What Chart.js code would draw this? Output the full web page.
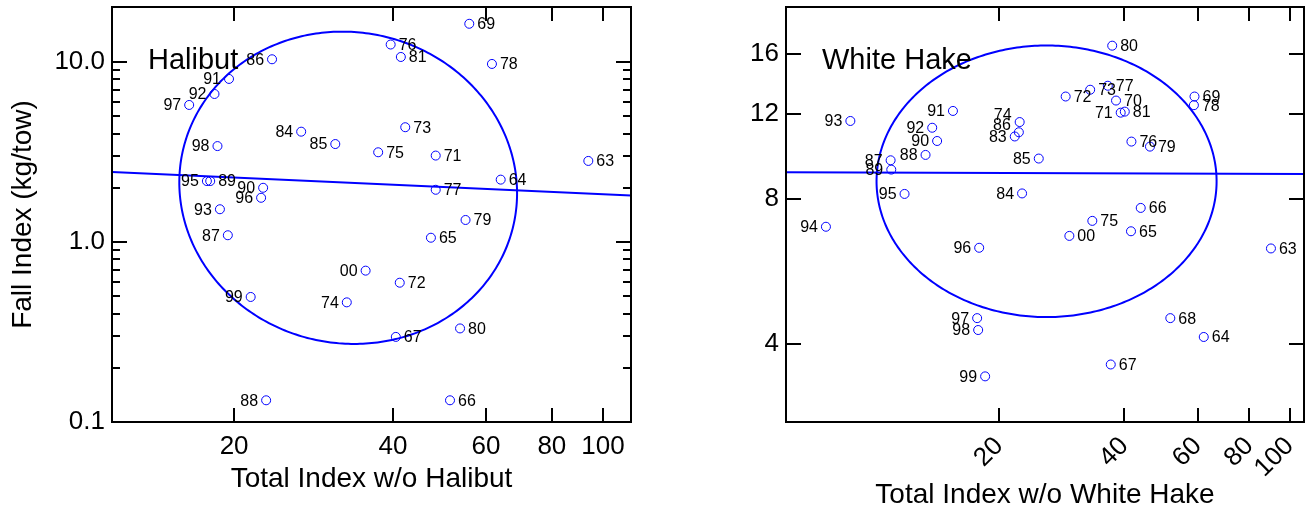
<!DOCTYPE html>
<html>
<head>
<meta charset="utf-8">
<script src="https://cdn.jsdelivr.net/npm/chart.js@4/dist/chart.umd.min.js"></script>
<style>
html,body{margin:0;padding:0;background:#fff;}
#wrap{position:relative;width:1314px;height:512px;overflow:hidden;}
.pane{position:absolute;top:0;width:657px;height:512px;}
</style>
</head>
<body>
<div id="wrap">
  <div class="pane" style="left:0"><canvas id="hal" width="657" height="512"></canvas></div>
  <div class="pane" style="left:657px"><canvas id="wh" width="657" height="512"></canvas></div>
</div>
<script>
// ---------------- Halibut panel data ----------------
const halYears = ['63','64','65','66','67','69','71','72','73','74','75','76','77','78','79','80','81','84','85','86','87','88','89','90','91','92','93','95','96','97','98','99','00'];
const halX = [93.8,64.0,47.2,51.3,40.5,55.8,48.2,41.2,42.2,32.7,37.5,39.6,48.2,61.6,54.9,53.6,41.4,26.8,31.1,23.6,19.46,23.0,18.02,22.7,19.56,18.36,18.8,17.76,22.5,16.44,18.6,21.5,35.5];
const halY = [2.82,2.22,1.056,0.132,0.297,16.3,3.02,0.594,4.34,0.462,3.15,12.5,1.95,9.75,1.325,0.331,10.66,4.10,3.50,10.35,1.09,0.132,2.18,2.00,8.05,6.64,1.52,2.18,1.76,5.77,3.41,0.495,0.693];
const halLabelSide = ['R','R','R','R','R','R','R','R','R','L','R','R','R','R','R','R','R','L','L','L','L','L','R','L','L','L','L','L','L','L','L','L','L'];
const halLabelDy = [0,0,0,0,0,0,0,0,0,0,0,0,0,0,0,0,0,0,0,0,0,0,0,0,0,0,0,0,0,0,0,0,0];
const halTrendX = [11.74, 113];
const halTrendY = [2.448, 1.813];
// ellipse in log10 space: centre x, centre y, half-width (decades), half-height (decades), shear
const halEllipse = [32.9, 2.0, 0.32, 0.867, 0.03];
const halXRange = [11.74, 113];
const halYRange = [0.1, 20.2];
const halXTicks = [20, 40, 60, 80, 100];
const halXTickLabels = ['20', '40', '60', '80', '100'];
const halYTicks = [0.1, 1, 10];
const halYTickLabels = ['0.1', '1.0', '10.0'];
const halYMinor = [0.2,0.3,0.4,0.5,0.6,0.7,0.8,0.9,2,3,4,5,6,7,8,9];

// ---------------- White Hake panel data ----------------
const whYears = ['63','64','65','66','67','68','69','70','71','72','73','74','75','76','77','78','79','80','81','83','84','85','86','87','88','89','90','91','92','93','94','95','96','97','98','99','00'];
const whX = [90.1,62.1,41.5,43.8,37.1,51.6,59.0,38.2,39.2,28.9,33.1,22.4,33.5,41.6,36.5,58.8,46.1,37.4,40.1,21.8,22.7,24.9,22.3,10.96,13.3,11.0,14.18,15.48,13.8,8.77,7.66,11.84,17.9,17.7,17.8,18.5,29.5];
const whY = [6.32,4.14,6.86,7.67,3.63,4.53,13.06,12.81,12.09,13.06,13.49,11.56,7.21,10.53,13.75,12.53,10.28,16.65,12.15,10.79,8.22,9.71,11.01,9.63,9.88,9.21,10.56,12.19,11.25,11.62,7.01,8.20,6.34,4.53,4.28,3.43,6.71];
const whLabelSide = ['R','R','R','R','R','R','R','R','L','R','R','L','R','R','R','R','R','R','R','L','L','L','L','L','L','L','L','L','L','L','L','L','L','L','L','L','R'];
const whLabelDy = [0,0,0,0,0,0,0,0,0,0,0,-7,0,0,0,0,0,0,0,0,0,0,-8,0,0,0,0,0,0,0,0,0,0,0,0,0,0];
const whTrendX = [6.14, 108.2];
const whTrendY = [9.09, 9.02];
const whEllipse = [26.0, 8.71, 0.409, 0.2817, 0];
const whXRange = [6.14, 108.2];
const whYRange = [2.758, 20.03];
const whXTicks = [20, 40, 60, 80, 100];
const whXTickLabels = ['20', '40', '60', '80', '100'];
const whYTicks = [4, 8, 12, 16];
const whYTickLabels = ['4', '8', '12', '16'];
const whYMinor = [];

const FONT = "'Liberation Sans', Arial, Helvetica, sans-serif";
const BLUE = '#0000ff';

const decorPlugin = {
  id: 'decor',
  beforeDatasetsDraw(chart) {
    const o = chart.options.plugins.decor;
    const ctx = chart.ctx, xs = chart.scales.x, ys = chart.scales.y, a = chart.chartArea;
    const e = o.ellipse;
    const lcx = Math.log10(e[0]), lcy = Math.log10(e[1]);
    ctx.save();
    ctx.beginPath();
    ctx.rect(a.left, a.top, a.right - a.left, a.bottom - a.top);
    ctx.clip();
    ctx.beginPath();
    const N = 360;
    for (let i = 0; i <= N; i++) {
      const t = i / N * Math.PI * 2;
      const lx = lcx + e[2] * Math.cos(t);
      const ly = lcy + e[3] * Math.sin(t) - e[4] * Math.cos(t);
      const px = xs.getPixelForValue(Math.pow(10, lx));
      const py = ys.getPixelForValue(Math.pow(10, ly));
      if (i === 0) ctx.moveTo(px, py); else ctx.lineTo(px, py);
    }
    ctx.strokeStyle = BLUE;
    ctx.lineWidth = 2;
    ctx.stroke();
    ctx.restore();
  },
  afterDatasetsDraw(chart) {
    const o = chart.options.plugins.decor;
    const ctx = chart.ctx, xs = chart.scales.x, ys = chart.scales.y, a = chart.chartArea;
    const meta = chart.getDatasetMeta(1);
    ctx.save();
    ctx.font = '16px ' + FONT;
    ctx.fillStyle = '#000';
    ctx.textBaseline = 'middle';
    meta.data.forEach((pt, i) => {
      const side = o.sides[i];
      ctx.textAlign = side === 'L' ? 'right' : 'left';
      const dx = side === 'L' ? -8 : 8;
      ctx.fillText(o.years[i], pt.x + dx, pt.y + 1 + o.dys[i]);
    });
    ctx.restore();
    ctx.save();
    ctx.strokeStyle = '#000';
    ctx.lineWidth = 2;
    ctx.strokeRect(a.left, a.top, a.right - a.left, a.bottom - a.top);
    ctx.beginPath();
    o.xTicks.forEach(v => {
      const px = Math.round(xs.getPixelForValue(v));
      ctx.moveTo(px, a.bottom); ctx.lineTo(px, a.bottom - 14);
      ctx.moveTo(px, a.top); ctx.lineTo(px, a.top + 14);
    });
    o.yTicks.forEach(v => {
      const py = Math.round(ys.getPixelForValue(v));
      ctx.moveTo(a.left, py); ctx.lineTo(a.left + 15, py);
      ctx.moveTo(a.right, py); ctx.lineTo(a.right - 15, py);
    });
    o.yMinor.forEach(v => {
      const py = Math.round(ys.getPixelForValue(v));
      ctx.moveTo(a.left, py); ctx.lineTo(a.left + 8, py);
      ctx.moveTo(a.right, py); ctx.lineTo(a.right - 8, py);
    });
    ctx.stroke();
    ctx.font = '29px ' + FONT;
    ctx.fillStyle = '#000';
    ctx.textAlign = 'left';
    ctx.textBaseline = 'middle';
    ctx.fillText(o.title, a.left + 36, a.top + 54);
    ctx.restore();
  }
};

function makeChart(id, d) {
  const pts = d.x.map((v, i) => ({x: v, y: d.y[i]}));
  const trend = d.tx.map((v, i) => ({x: v, y: d.ty[i]}));
  return new Chart(document.getElementById(id), {
    type: 'scatter',
    data: {
      datasets: [
        {type: 'line', data: trend, borderColor: BLUE, borderWidth: 2, pointRadius: 0, fill: false, order: 2},
        {data: pts, pointRadius: 4.5, borderWidth: 1, borderColor: BLUE, backgroundColor: 'rgba(0,0,0,0)', order: 1}
      ]
    },
    options: {
      responsive: false,
      animation: false,
      devicePixelRatio: 1,
      events: [],
      layout: {padding: {left: 0, right: d.padRight, top: 7, bottom: 0}},
      plugins: {
        legend: {display: false},
        tooltip: {enabled: false},
        decor: {
          ellipse: d.ellipse, years: d.years, sides: d.sides, dys: d.dys,
          xTicks: d.xTicks, yTicks: d.yTicks, yMinor: d.yMinor, title: d.title
        }
      },
      scales: {
        x: {
          type: 'logarithmic', min: d.xRange[0], max: d.xRange[1],
          afterFit: s => { s.height = 90; s.paddingLeft = 0; s.paddingRight = 0; s.paddingTop = 0; s.paddingBottom = 0; },
          afterBuildTicks: s => { s.ticks = d.xTicks.map(v => ({value: v})); },
          ticks: {
            autoSkip: false, color: '#000', padding: d.xTickPad,
            minRotation: d.xRot, maxRotation: d.xRot,
            font: {family: FONT, size: 26},
            callback: (v) => { const k = d.xTicks.indexOf(v); return k >= 0 ? d.xLabels[k] : ''; }
          },
          grid: {display: false, drawTicks: false},
          border: {display: false},
          title: {display: true, text: d.xTitle, color: '#000', font: {family: FONT, size: 28}, padding: {top: 0, bottom: d.xTitlePad}}
        },
        y: {
          type: 'logarithmic', min: d.yRange[0], max: d.yRange[1],
          afterFit: s => { s.width = d.yWidth; s.paddingTop = 0; s.paddingBottom = 0; s.paddingLeft = 0; s.paddingRight = 0; },
          afterBuildTicks: s => { s.ticks = d.yTicks.map(v => ({value: v})); },
          ticks: {
            autoSkip: false, color: '#000', padding: 7,
            font: {family: FONT, size: 26},
            callback: (v) => { const k = d.yTicks.indexOf(v); return k >= 0 ? d.yLabels[k] : ''; }
          },
          grid: {display: false, drawTicks: false},
          border: {display: false},
          title: {display: !!d.yTitle, text: d.yTitle || '', color: '#000', font: {family: FONT, size: 28}, padding: {top: 6, bottom: 0}}
        }
      }
    },
    plugins: [decorPlugin]
  });
}

makeChart('hal', {
  x: halX, y: halY, years: halYears, sides: halLabelSide, dys: halLabelDy,
  tx: halTrendX, ty: halTrendY, ellipse: halEllipse,
  xRange: halXRange, yRange: halYRange,
  xTicks: halXTicks, xLabels: halXTickLabels, yTicks: halYTicks, yLabels: halYTickLabels, yMinor: halYMinor,
  padRight: 26, yWidth: 112, xRot: 0, xTickPad: 9, xTitlePad: 16,
  xTitle: 'Total Index w/o Halibut', yTitle: 'Fall Index (kg/tow)', title: 'Halibut'
});
makeChart('wh', {
  x: whX, y: whY, years: whYears, sides: whLabelSide, dys: whLabelDy,
  tx: whTrendX, ty: whTrendY, ellipse: whEllipse,
  xRange: whXRange, yRange: whYRange,
  xTicks: whXTicks, xLabels: whXTickLabels, yTicks: whYTicks, yLabels: whYTickLabels, yMinor: whYMinor,
  padRight: 10, yWidth: 129, xRot: 45, xTickPad: 9, xTitlePad: 0,
  xTitle: 'Total Index w/o White Hake', yTitle: '', title: 'White Hake'
});
</script>
</body>
</html>
